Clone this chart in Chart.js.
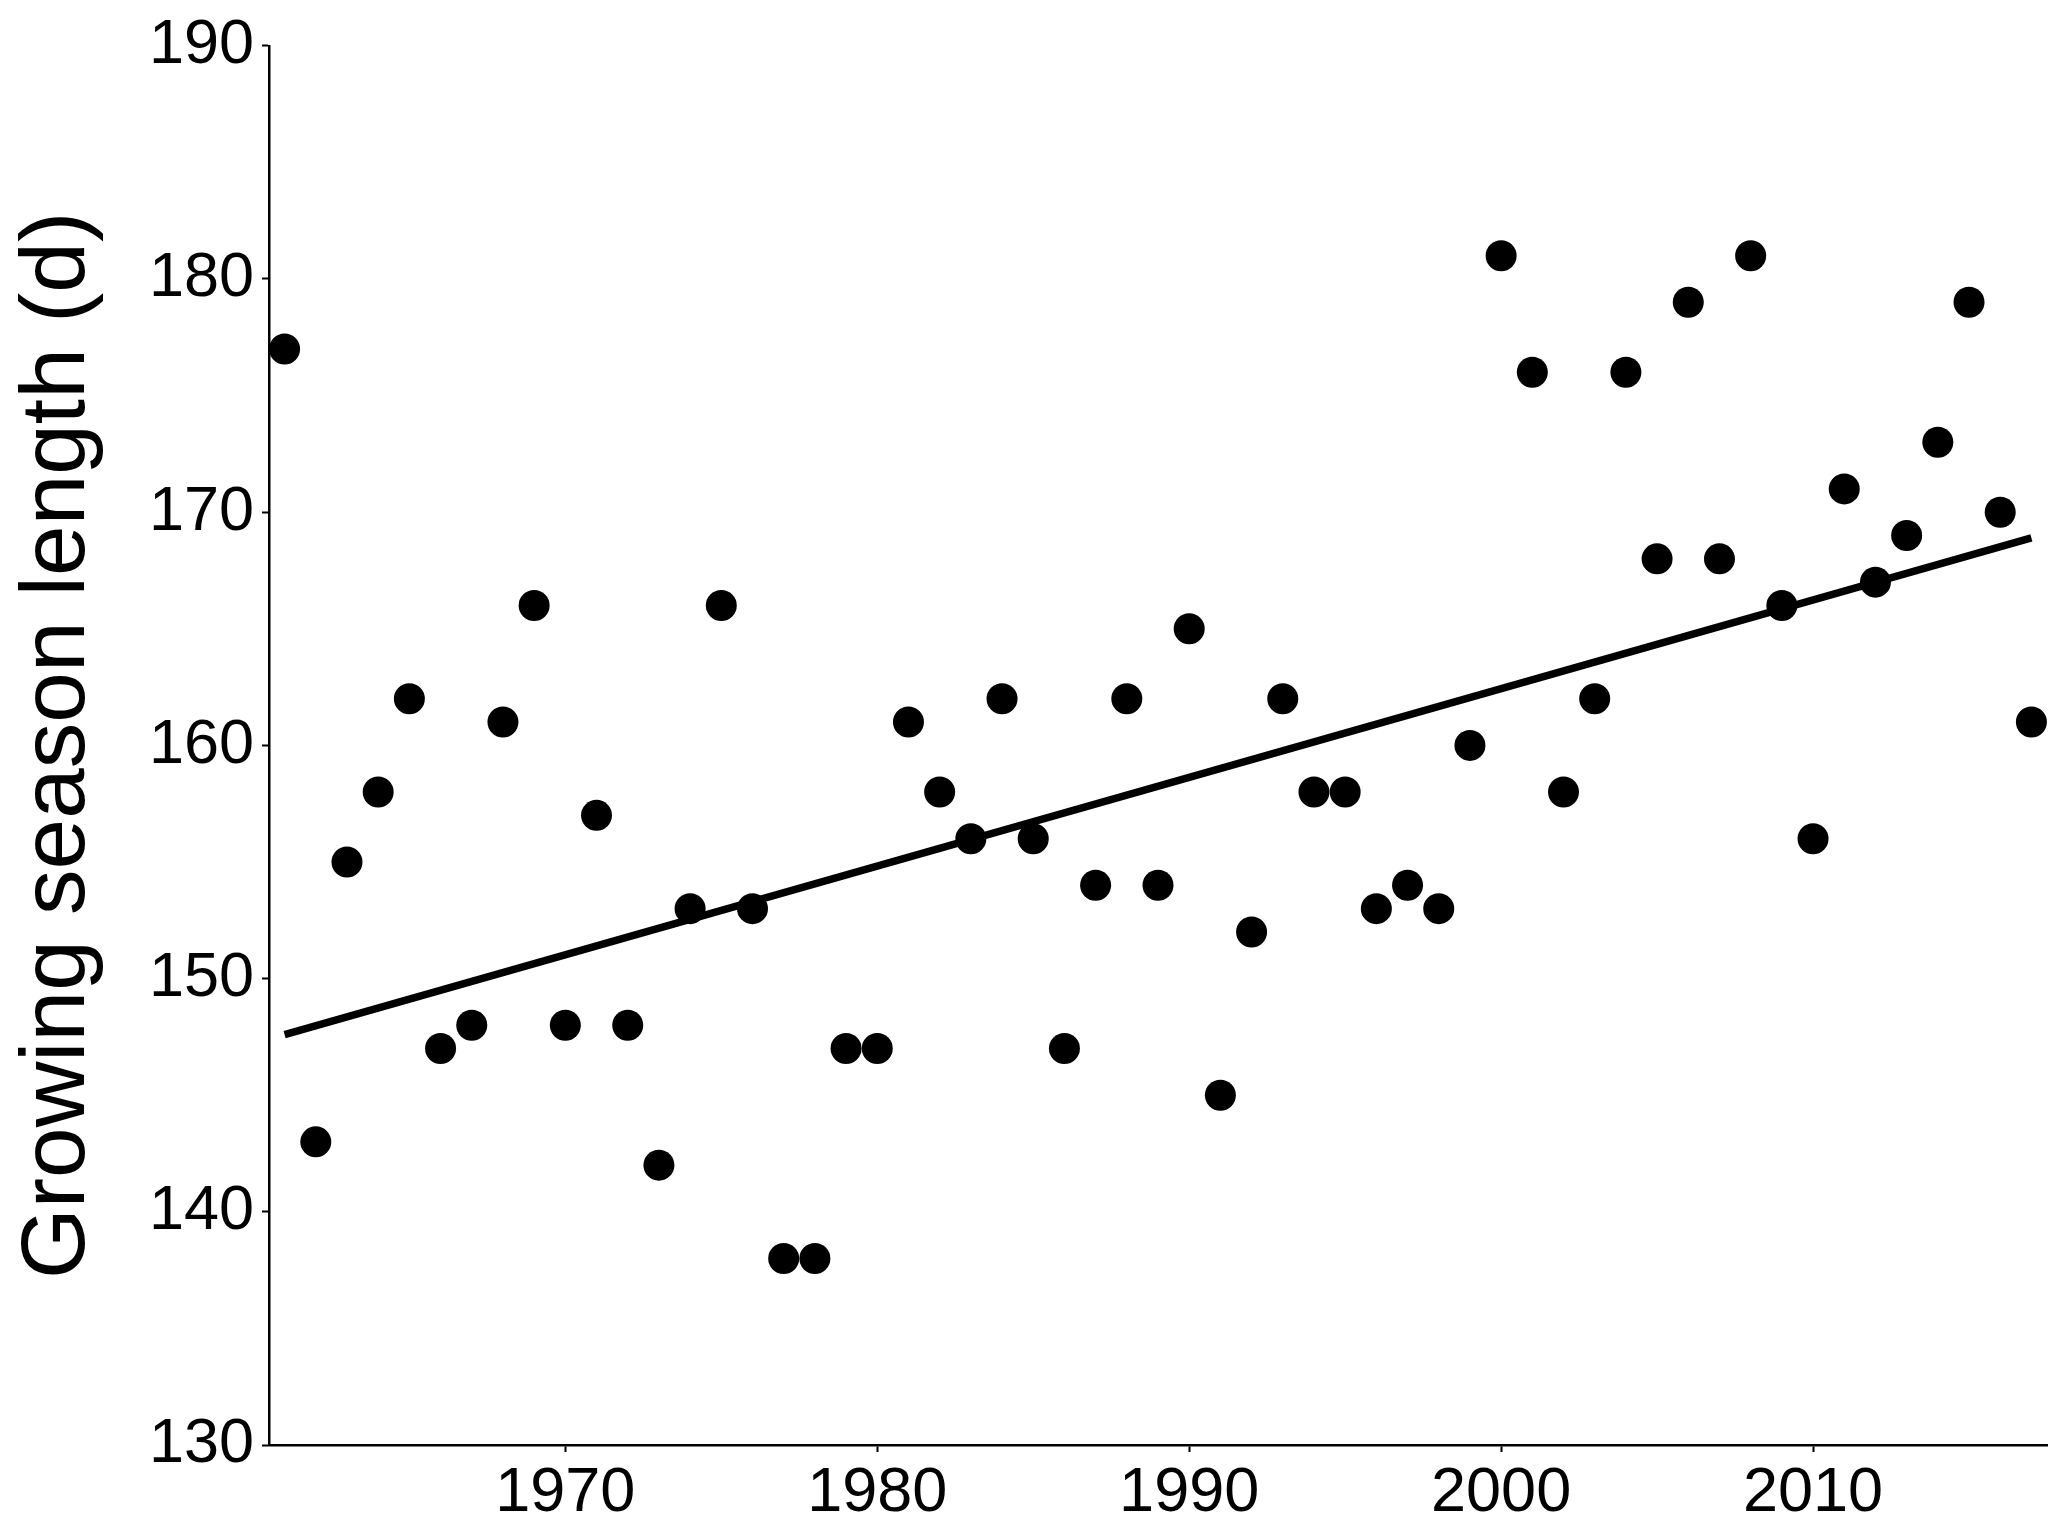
<!DOCTYPE html>
<html>
<head>
<meta charset="utf-8">
<script src="https://cdn.jsdelivr.net/npm/chart.js@4/dist/chart.umd.min.js"></script>
<style>
html,body{margin:0;padding:0;background:#fff;}
#wrap{width:2067px;height:1526px;}
</style>
</head>
<body>
<div id="wrap"><canvas id="c" width="2067" height="1526"></canvas></div>
<script>
const years = [1961,1962,1963,1964,1965,1966,1967,1968,1969,1970,1971,1972,1973,1974,1975,1976,1977,1978,1979,1980,1981,1982,1983,1984,1985,1986,1987,1988,1989,1990,1991,1992,1993,1994,1995,1996,1997,1998,1999,2000,2001,2002,2003,2004,2005,2006,2007,2008,2009,2010,2011,2012,2013,2014,2015,2016,2017];
const seasonLength = [177,143,155,158,162,147,148,161,166,148,157,148,142,153,166,153,138,138,147,147,161,158,156,162,156,147,154,162,154,165,145,152,162,158,158,153,154,153,160,181,176,158,162,176,168,179,168,181,166,156,171,167,169,173,179,170,161];
const trendYears = [1961, 2017];
const trendValues = [147.6, 168.9];
const xTicks = [1970, 1980, 1990, 2000, 2010];
const yTicks = [130, 140, 150, 160, 170, 180, 190];
const yTitle = 'Growing season length (d)';

const FONT = '"Liberation Sans", Arial, Helvetica, sans-serif';

const pts = years.map((y, i) => ({x: y, y: seasonLength[i]}));
const trend = trendYears.map((y, i) => ({x: y, y: trendValues[i]}));

new Chart(document.getElementById('c'), {
  type: 'scatter',
  data: {
    datasets: [
      {
        type: 'scatter',
        data: pts,
        pointRadius: 15.5,
        pointHoverRadius: 15.5,
        backgroundColor: '#000',
        borderColor: '#000',
        borderWidth: 0,
        clip: false,
        order: 2
      },
      {
        type: 'line',
        data: trend,
        borderColor: '#000',
        borderWidth: 7.5,
        pointRadius: 0,
        fill: false,
        clip: false,
        order: 1
      }
    ]
  },
  options: {
    responsive: false,
    animation: false,
    devicePixelRatio: 1,
    layout: {padding: {left: 0, top: 41, right: 20, bottom: 0}},
    plugins: {legend: {display: false}, tooltip: {enabled: false}},
    scales: {
      x: {
        type: 'linear',
        min: 1960.5,
        max: 2017.5,
        afterBuildTicks: s => { s.ticks = xTicks.map(v => ({value: v})); },
        afterFit: s => { s.height = 81; },
        grid: {drawOnChartArea: false, drawTicks: true, tickLength: 7, tickColor: '#000', tickWidth: 2, color: '#000'},
        border: {display: true, color: '#000', width: 2.5},
        ticks: {
          color: '#000',
          font: {family: FONT, size: 63},
          padding: 4,
          maxRotation: 0,
          callback: v => String(v)
        }
      },
      y: {
        type: 'linear',
        min: 130,
        max: 190,
        afterBuildTicks: s => { s.ticks = yTicks.map(v => ({value: v})); },
        afterFit: s => { s.width = 269; },
        grid: {drawOnChartArea: false, drawTicks: true, tickLength: 7, tickColor: '#000', tickWidth: 2, color: '#000'},
        border: {display: true, color: '#000', width: 2.5},
        ticks: {
          color: '#000',
          font: {family: FONT, size: 63},
          padding: 8,
          callback: v => String(v)
        },
        title: {
          display: true,
          text: yTitle,
          color: '#000',
          font: {family: FONT, size: 91},
          padding: {top: 4, bottom: 0}
        }
      }
    }
  }
});
</script>
</body>
</html>
